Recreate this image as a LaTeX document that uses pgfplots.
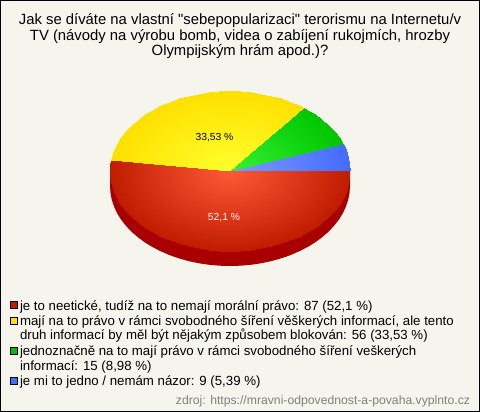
\documentclass[border=0pt]{standalone}
\usepackage{pgfplots}
\pgfplotsset{compat=1.18}
\usepackage{fontspec}
\setmainfont{Liberation Sans}[Ligatures=TeXOff]
\definecolor{bgc}{RGB}{245,245,238}
\definecolor{wallc}{RGB}{168,0,0}
\definecolor{srcc}{RGB}{128,128,128}
\definecolor{swr}{RGB}{192,28,0}
\definecolor{swy}{RGB}{255,224,0}
\definecolor{swg}{RGB}{0,190,0}
\definecolor{swb}{RGB}{68,108,255}
\tikzset{every node/.append style={inner sep=0pt,outer sep=0pt}}
\pgfplotsset{
  colormap={redm}{rgb255=(192,28,0) rgb255=(255,90,55)},
  colormap={yelm}{rgb255=(255,224,0) rgb255=(255,255,45)},
  colormap={grnm}{rgb255=(0,198,0) rgb255=(52,242,52)},
  colormap={blum}{rgb255=(68,108,255) rgb255=(125,155,255)},
  wedge/.style={surf,shader=interp,mesh/rows=2,mesh/ordering=y varies,point meta=explicit},
  swatch/.style={only marks,mark=square*,mark size=3.5pt,mark options={fill=#1,draw=black,line width=0.8pt,line join=miter}},
}
\begin{document}
\begin{tikzpicture}
\begin{axis}[
  scale only axis,width=480pt,height=412pt,
  xmin=0,xmax=480,ymin=0,ymax=412,y dir=reverse,
  xtick=\empty,ytick=\empty,
  axis line style={line width=2pt,black},
  axis background/.style={fill=bgc},
  point meta min=0,point meta max=1,
]
% side wall below the red slice
\addplot[draw=none,fill=wallc] coordinates {
(350,171) (350,186) (349.5,193) (348.2,199.9) (345.9,206.7) (342.8,213.4) (338.8,219.8)
(333.9,226) (328.3,231.9) (321.9,237.4) (314.9,242.6) (307.1,247.3) (298.8,251.5)
(290,255.3) (280.7,258.5) (271,261.2) (261.1,263.3) (250.8,264.8) (240.5,265.7)
(230,266) (219.5,265.7) (209.2,264.8) (198.9,263.3) (189,261.2) (179.3,258.5)
(170,255.3) (161.2,251.5) (152.9,247.3) (145.1,242.6) (138.1,237.4) (131.7,231.9)
(126.1,226) (121.2,219.8) (117.2,213.4) (114.1,206.7) (111.8,199.9) (110.5,193)
(110,186) (110,171)
};
% red 52.1 %
\addplot[wedge,colormap name=redm] coordinates {
(350,171) [0] (230,171) [1]
(349.5,178) [0] (230,171) [1]
(348.2,184.9) [0] (230,171) [1]
(345.9,191.7) [0] (230,171) [1]
(342.8,198.4) [0] (230,171) [1]
(338.8,204.8) [0] (230,171) [1]
(333.9,211) [0] (230,171) [1]
(328.3,216.9) [0] (230,171) [1]
(321.9,222.4) [0] (230,171) [1]
(314.9,227.6) [0] (230,171) [1]
(307.1,232.3) [0] (230,171) [1]
(298.8,236.5) [0] (230,171) [1]
(290,240.3) [0] (230,171) [1]
(280.7,243.5) [0] (230,171) [1]
(271,246.2) [0] (230,171) [1]
(261.1,248.3) [0] (230,171) [1]
(250.8,249.8) [0] (230,171) [1]
(240.5,250.7) [0] (230,171) [1]
(230,251) [0] (230,171) [1]
(219.5,250.7) [0] (230,171) [1]
(209.2,249.8) [0] (230,171) [1]
(198.9,248.3) [0] (230,171) [1]
(189,246.2) [0] (230,171) [1]
(179.3,243.5) [0] (230,171) [1]
(170,240.3) [0] (230,171) [1]
(161.2,236.5) [0] (230,171) [1]
(152.9,232.3) [0] (230,171) [1]
(145.1,227.6) [0] (230,171) [1]
(138.1,222.4) [0] (230,171) [1]
(131.7,216.9) [0] (230,171) [1]
(126.1,211) [0] (230,171) [1]
(121.2,204.8) [0] (230,171) [1]
(117.2,198.4) [0] (230,171) [1]
(114.1,191.7) [0] (230,171) [1]
(111.8,184.9) [0] (230,171) [1]
(110.5,178) [0] (230,171) [1]
(110,171) [0] (230,171) [1]
(110.5,164) [0] (230,171) [1]
(111.1,160.4) [0] (230,171) [1]
};
% yellow 33.53 %
\addplot[wedge,colormap name=yelm] coordinates {
(111.1,160.4) [0] (230,171) [1]
(111.8,157.1) [0] (230,171) [1]
(114.1,150.3) [0] (230,171) [1]
(117.2,143.6) [0] (230,171) [1]
(121.2,137.2) [0] (230,171) [1]
(126.1,131) [0] (230,171) [1]
(131.7,125.1) [0] (230,171) [1]
(138.1,119.6) [0] (230,171) [1]
(145.1,114.4) [0] (230,171) [1]
(152.9,109.7) [0] (230,171) [1]
(161.2,105.5) [0] (230,171) [1]
(170,101.7) [0] (230,171) [1]
(179.3,98.5) [0] (230,171) [1]
(189,95.8) [0] (230,171) [1]
(198.9,93.7) [0] (230,171) [1]
(209.2,92.2) [0] (230,171) [1]
(219.5,91.3) [0] (230,171) [1]
(230,91) [0] (230,171) [1]
(240.5,91.3) [0] (230,171) [1]
(250.8,92.2) [0] (230,171) [1]
(261.1,93.7) [0] (230,171) [1]
(271,95.8) [0] (230,171) [1]
(280.7,98.5) [0] (230,171) [1]
(290,101.7) [0] (230,171) [1]
(298.8,105.5) [0] (230,171) [1]
(304.4,108.2) [0] (230,171) [1]
};
% green 8.98 %
\addplot[wedge,colormap name=grnm] coordinates {
(304.4,108.2) [0] (230,171) [1]
(307.1,109.7) [0] (230,171) [1]
(314.9,114.4) [0] (230,171) [1]
(321.9,119.6) [0] (230,171) [1]
(328.3,125.1) [0] (230,171) [1]
(333.9,131) [0] (230,171) [1]
(338.8,137.2) [0] (230,171) [1]
(342.8,143.6) [0] (230,171) [1]
(343.2,144.4) [0] (230,171) [1]
};
% blue 5.39 %
\addplot[wedge,colormap name=blum] coordinates {
(343.2,144.4) [0] (230,171) [1]
(345.9,150.3) [0] (230,171) [1]
(348.2,157.1) [0] (230,171) [1]
(349.5,164) [0] (230,171) [1]
(350,171) [0] (230,171) [1]
};
% legend swatches
\addplot[swatch=swr] coordinates {(13.5,305)};
\addplot[swatch=swy] coordinates {(13.5,321)};
\addplot[swatch=swg] coordinates {(13.5,351)};
\addplot[swatch=swb] coordinates {(13.5,381)};
% title
\node[anchor=base,font=\fontsize{14.85}{17}\selectfont] at (axis cs:240,25) {Jak se díváte na vlastní "sebepopularizaci" terorismu na Internetu/v};
\node[anchor=base,font=\fontsize{14.85}{17}\selectfont] at (axis cs:240,40.5) {TV (návody na výrobu bomb, videa o zabíjení rukojmích, hrozby};
\node[anchor=base,font=\fontsize{14.85}{17}\selectfont] at (axis cs:240,56) {Olympijským hrám apod.)?};
% slice labels
\node[anchor=base,font=\fontsize{10.3}{12}\selectfont] at (axis cs:214.5,140.5) {33,53 \%};
\node[anchor=base,font=\fontsize{10.3}{12}\selectfont,text=white] at (axis cs:224,220) {52,1 \%};
% legend text
\node[anchor=base west,font=\fontsize{13.25}{15}\selectfont] at (axis cs:20,310) {je to neetické, tudíž na to nemají morální právo: 87 (52,1 \%)};
\node[anchor=base west,font=\fontsize{13.25}{15}\selectfont] at (axis cs:20,325) {mají na to právo v rámci svobodného šíření věškerých informací, ale tento};
\node[anchor=base west,font=\fontsize{13.25}{15}\selectfont] at (axis cs:20,339.5) {druh informací by měl být nějakým způsobem blokován: 56 (33,53 \%)};
\node[anchor=base west,font=\fontsize{13.25}{15}\selectfont] at (axis cs:20,355.5) {jednoznačně na to mají právo v rámci svobodného šíření veškerých};
\node[anchor=base west,font=\fontsize{13.25}{15}\selectfont] at (axis cs:20,370) {informací: 15 (8,98 \%)};
\node[anchor=base west,font=\fontsize{13.25}{15}\selectfont] at (axis cs:20,385.5) {je mi to jedno / nemám názor: 9 (5,39 \%)};
\node[anchor=base east,font=\fontsize{12.2}{14}\selectfont,text=srcc] at (axis cs:470,404) {zdroj: https://mravni-odpovednost-a-povaha.vyplnto.cz};
\end{axis}
\pgfresetboundingbox
\path (0,0) rectangle (480pt,412pt);
\end{tikzpicture}
\end{document}
